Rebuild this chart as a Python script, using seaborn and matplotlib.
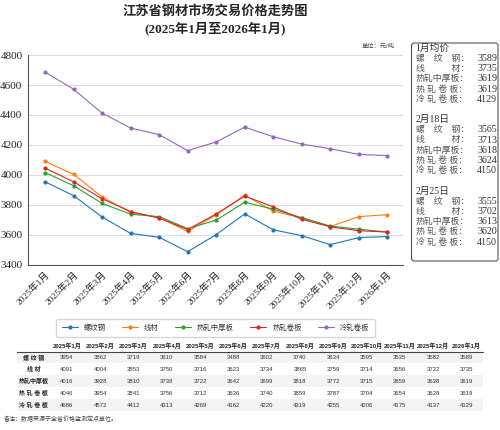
import pandas as pd
import matplotlib.pyplot as plt
import seaborn as sns
from matplotlib.patches import FancyBboxPatch

months = ['2025年1月', '2025年2月', '2025年3月', '2025年4月', '2025年5月', '2025年6月',
          '2025年7月', '2025年8月', '2025年9月', '2025年10月', '2025年11月', '2025年12月',
          '2026年1月']
products = ['螺纹钢', '线材', '热轧中厚板', '热轧卷板', '冷轧卷板']
row_labels = ['螺 纹 钢', '线 材', '热轧中厚板', '热 轧 卷 板', '冷 轧 卷 板']

luowen = [3954, 3862, 3719, 3610, 3584, 3488, 3602, 3740, 3634, 3595, 3535, 3582, 3589]
xiancai = [4091, 4004, 3853, 3750, 3716, 3623, 3734, 3865, 3759, 3714, 3656, 3722, 3735]
zhonghou = [4016, 3928, 3810, 3738, 3722, 3642, 3699, 3818, 3772, 3715, 3659, 3638, 3619]
rejuan = [4046, 3954, 3841, 3756, 3712, 3636, 3740, 3859, 3787, 3704, 3654, 3628, 3619]
lengjuan = [4686, 4572, 4412, 4313, 4269, 4162, 4220, 4319, 4255, 4206, 4175, 4137, 4129]

side_blocks = [
    ('1月均价', [3589, 3735, 3619, 3619, 4129]),
    ('2月18日', [3565, 3713, 3618, 3624, 4150]),
    ('2月25日', [3555, 3702, 3613, 3620, 4150]),
]
side_labels = ['螺　纹　钢：', '线　　　材：', '热轧中厚板：', '热 轧 卷 板：', '冷 轧 卷 板：']

series = [luowen, xiancai, zhonghou, rejuan, lengjuan]
df = pd.DataFrame({
    'idx': list(range(len(months))) * len(products),
    'price': sum(series, []),
    'product': [p for p in products for _ in months],
})

sns.set_style('white')
serif = ['Liberation Serif', 'Noto Sans CJK SC']
sans = ['Liberation Sans', 'Noto Sans CJK SC']
plt.rcParams['font.family'] = sans

fig = plt.figure(figsize=(5, 4.3), dpi=100)
ax = fig.add_axes([0.056, 0.384, 0.75, 0.488])

palette = sns.color_palette('tab10', 5)
sns.lineplot(data=df, x='idx', y='price', hue='product', hue_order=products,
             palette=palette, marker='o', markersize=3, markeredgewidth=0,
             linewidth=0.8, sort=False, ax=ax)

ax.set_xlim(-0.6, 12.55)
ax.set_ylim(3400, 4800)
ax.set_yticks(range(3400, 4801, 200))
ax.yaxis.grid(True, color='#dddddd', linewidth=0.8)
ax.set_axisbelow(True)
for s in ['top', 'right']:
    ax.spines[s].set_visible(False)
for s in ['left', 'bottom']:
    ax.spines[s].set_color('#555555')
    ax.spines[s].set_linewidth(0.8)
ax.tick_params(axis='both', length=2.5, width=0.6, color='#555555', pad=1.5)
ax.set_xticks(range(len(months)))
ax.set_xticklabels(months, rotation=45, ha='right', rotation_mode='anchor',
                   fontsize=6.8, family=serif)
for lbl in ax.get_yticklabels():
    lbl.set_family(serif)
    lbl.set_fontsize(8)
ax.set_xlabel('')
ax.set_ylabel('')

leg = ax.legend(loc='center', bbox_to_anchor=(0.5, -0.301), ncol=5, fontsize=5.3,
                frameon=True, edgecolor='#cccccc', handlelength=2.2, columnspacing=2.2,
                borderpad=0.7, fancybox=True)
for t in leg.get_texts():
    t.set_color('#333333')

fig.text(0.43, 0.973, '江苏省钢材市场交易价格走势图', ha='center', va='center',
         fontsize=9.5, fontweight='bold', family=serif)
fig.text(0.43, 0.933, '(2025年1月至2026年1月)', ha='center', va='center',
         fontsize=9.5, fontweight='bold', family=serif)
fig.text(0.79, 0.893, '单位：元/吨', ha='right', va='center', fontsize=4.5,
         color='#444444')

# side box with latest prices
box = FancyBboxPatch((0.823, 0.393), 0.173, 0.507, boxstyle='round,pad=0,rounding_size=0.006',
                     transform=fig.transFigure, facecolor='white', edgecolor='#555555',
                     linewidth=0.8)
fig.patches.append(box)
line_h = 10.2 / 430
y = 1 - 48.3 / 430
for title, vals in side_blocks:
    fig.text(0.831, y, title, ha='left', va='center', fontsize=7, family=serif,
             color='#333333')
    y -= line_h
    for lab, v in zip(side_labels, vals):
        fig.text(0.831, y, lab, ha='left', va='center', fontsize=6.4, family=serif,
                 color='#555555')
        fig.text(0.994, y, str(v), ha='right', va='center', fontsize=7.2,
                 family=serif, color='#333333')
        y -= line_h
    y -= line_h

# data table
tax = fig.add_axes([0.034, 0.044, 0.932, 0.166])
tax.axis('off')
cells = [[row_labels[i]] + [str(v) for v in series[i]] for i in range(len(products))]
header = [''] + months
widths = [1 / 14] * 14
table = tax.table(cellText=[header] + cells, colWidths=widths, bbox=[0, 0, 1, 1],
                  cellLoc='center')
table.auto_set_font_size(False)
table.set_fontsize(4.3)
for (r, c), cell in table.get_celld().items():
    cell.set_edgecolor('none')
    cell.set_linewidth(0)
    if r == 0:
        cell.get_text().set_fontweight('bold')
        cell.set_facecolor('white')
    else:
        cell.set_facecolor('#f3f3f3' if r % 2 == 1 else 'white')
        if c == 0:
            cell.get_text().set_fontweight('bold')
        else:
            cell.get_text().set_color('#333333')
tax.plot([0, 1], [5 / 6, 5 / 6], color='#444444', linewidth=0.8,
         transform=tax.transAxes, clip_on=False)

fig.text(0.008, 0.026, '备注：数据来源于全省价格监测定点单位。', ha='left', va='center',
         fontsize=4.3, color='#444444')

fig.savefig('out.png', dpi=100)
